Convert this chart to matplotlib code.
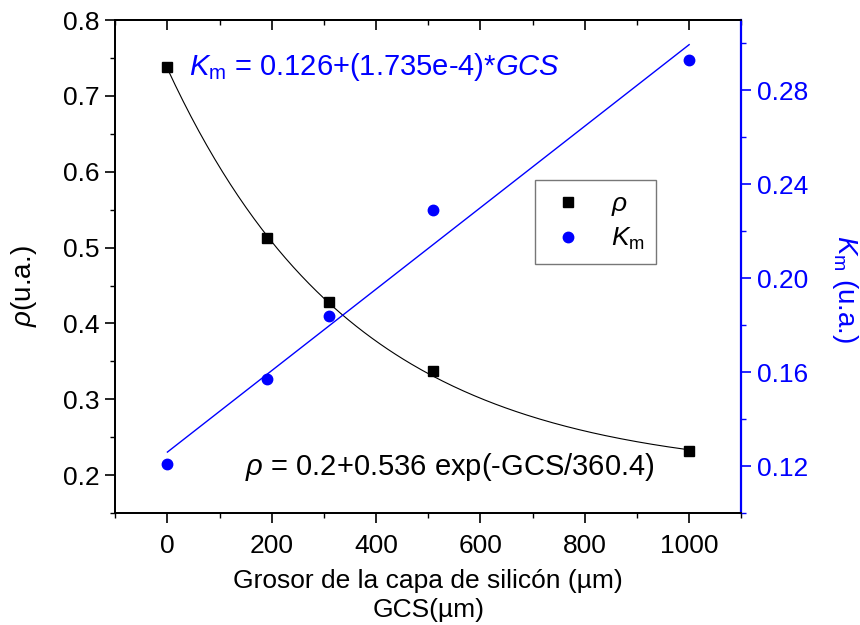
import matplotlib.pyplot as plt
import numpy as np
from matplotlib.ticker import MultipleLocator, FormatStrFormatter

plt.rcParams['font.family'] = ['Liberation Sans', 'DejaVu Sans']
plt.rcParams['mathtext.fontset'] = 'custom'
plt.rcParams['mathtext.rm'] = 'Liberation Sans'
plt.rcParams['mathtext.it'] = 'Liberation Sans:italic'

gcs = [0, 190, 310, 510, 1000]
rho = [0.738, 0.512, 0.428, 0.337, 0.232]
km = [0.121, 0.157, 0.184, 0.229, 0.293]

# ajustes
rho_a, rho_b, rho_t = 0.2, 0.536, 360.4
km_a, km_b = 0.126, 1.735e-4

azul = '#0000ff'

fig = plt.figure(figsize=(8.6, 6.25), dpi=100)
ax = fig.add_axes([0.134, 0.179, 0.728, 0.789])
ax2 = ax.twinx()

xf = np.linspace(0, 1000, 200)
ax.plot(xf, rho_a + rho_b * np.exp(-xf / rho_t), color='black', lw=0.8, zorder=2)
ax.plot(gcs, rho, 's', color='black', ms=7, zorder=3, label=r'$\rho$')

xl = np.array([0, 1000])
ax2.plot(xl, km_a + km_b * xl, color=azul, lw=1.0, zorder=2)
ax2.plot(gcs, km, 'o', color=azul, ms=7.5, zorder=3, label=r'$K_{\mathrm{m}}$')

ax.set_xlim(-100, 1100)
ax.set_ylim(0.15, 0.8)
ax2.set_ylim(0.10, 0.31)

ax.xaxis.set_major_locator(MultipleLocator(200))
ax.xaxis.set_minor_locator(MultipleLocator(100))
ax.yaxis.set_major_locator(MultipleLocator(0.1))
ax.yaxis.set_minor_locator(MultipleLocator(0.05))
ax.yaxis.set_major_formatter(FormatStrFormatter('%.1f'))
ax2.yaxis.set_minor_locator(MultipleLocator(0.02))
ax2.yaxis.set_major_formatter(FormatStrFormatter('%.2f'))
ax2.set_yticks([0.12, 0.16, 0.20, 0.24, 0.28])

ax.tick_params(axis='both', which='major', labelsize=19, length=7, width=1.2,
               direction='out', pad=4)
ax.tick_params(axis='x', which='major', pad=8)
ax.tick_params(axis='both', which='minor', length=3.6, width=1.0, direction='out')
ax2.tick_params(axis='y', which='major', labelsize=19, length=7, width=1.2,
                colors=azul, direction='out', pad=4)
ax2.tick_params(axis='y', which='minor', length=3.6, width=1.0, colors=azul, direction='out')

# marcas interiores en el eje superior
top = ax.secondary_xaxis('top')
top.xaxis.set_major_locator(MultipleLocator(200))
top.xaxis.set_minor_locator(MultipleLocator(100))
top.tick_params(which='major', direction='in', length=7, width=1.2, labeltop=False)
top.tick_params(which='minor', direction='in', length=3.6, width=1.0)
top.spines['top'].set_linewidth(1.3)

for s in ax.spines.values():
    s.set_linewidth(1.3)
for s in ax2.spines.values():
    s.set_linewidth(1.3)
ax2.spines['right'].set_color(azul)
ax2.spines['right'].set_linewidth(1.6)

ax.set_xlabel('Grosor de la capa de silicón (µm)\nGCS(µm)', fontsize=19,
              linespacing=1.25, labelpad=8)
ax.set_ylabel(r'$\rho$(u.a.)', fontsize=20, va='center')
ax.yaxis.set_label_coords(-0.145, 0.46)
ax2.set_ylabel(r'$K_{\mathrm{m}}$ (u.a.)', fontsize=20, color=azul, rotation=270,
               va='center')
ax2.yaxis.set_label_coords(1.165, 0.455)

ax.text(42, 0.738, r'$K_{\mathrm{m}}$ = 0.126+(1.735e-4)*$GCS$', color=azul,
        fontsize=21, va='center', ha='left')
ax.text(148, 0.211, r'$\rho$ = 0.2+0.536 exp(-GCS/360.4)', color='black',
        fontsize=21, va='center', ha='left')

h1, l1 = ax.get_legend_handles_labels()
h2, l2 = ax2.get_legend_handles_labels()
leg = ax2.legend(h1 + h2, l1 + l2, loc='upper left', bbox_to_anchor=(0.671, 0.675),
                 fontsize=19, frameon=True, fancybox=False, edgecolor='#555555',
                 handletextpad=0.8, borderpad=0.45, labelspacing=0.3, handlelength=1.6,
                 borderaxespad=0)
leg.get_frame().set_linewidth(1.0)

fig.savefig('out.png', dpi=100)
